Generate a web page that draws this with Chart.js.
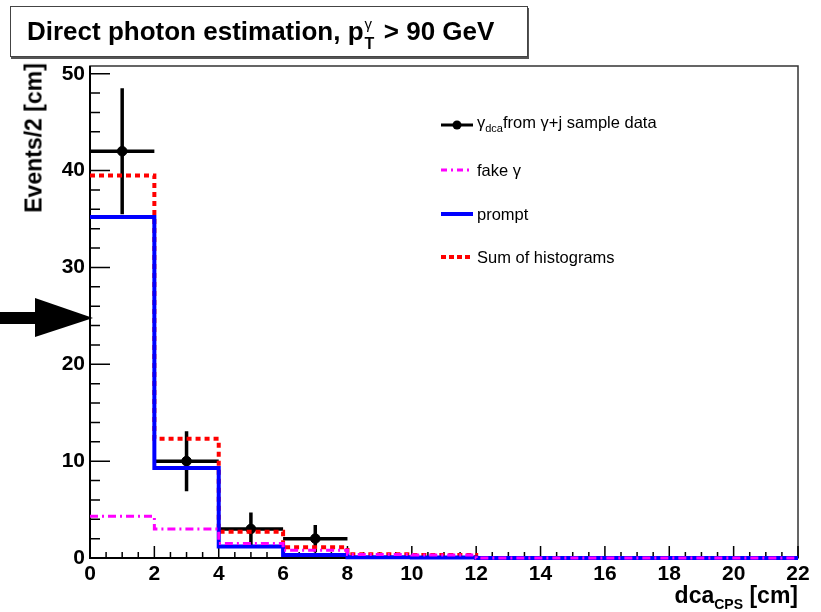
<!DOCTYPE html>
<html>
<head>
<meta charset="utf-8">
<script src="https://cdn.jsdelivr.net/npm/chart.js@4/dist/chart.umd.min.js"></script>
<style>
  body { margin: 0; background: #fff; }
  #wrap { position: relative; width: 821px; height: 612px; font-family: "Liberation Sans", Arial, sans-serif; }
  #c { position: absolute; left: 0; top: 0; }
  .lbl { position: absolute; white-space: nowrap; color: #000; }
  #title {
    left: 10px; top: 6px; width: 516px; height: 49px;
    border: 1px solid #444; box-shadow: 1px 2px 0 #555;
    font-weight: bold; font-size: 26px; line-height: 49px; box-sizing: content-box;
  }
  #title .t { position: absolute; left: 16px; top: 0; }
  .stack { display: inline-block; position: relative; width: 13px; height: 10px; }
  .stack .up { position: absolute; left: 1px; top: -31px; font-size: 15px; font-weight: normal; }
  .stack .dn { position: absolute; left: 1px; top: -11px; font-size: 16px; }
  #ytitle { left: 34px; top: 138px; font-weight: bold; font-size: 23px; transform: translate(-50%, -50%) rotate(-90deg); }
  #xtitle { right: 23px; top: 584px; font-weight: bold; font-size: 23px; line-height: 23px; }
  #xtitle sub { font-size: 14px; vertical-align: -6px; }
  .leg { left: 477px; font-size: 16.5px; line-height: 18px; transform: translateY(-50%); }
  .leg sub { font-size: 11px; vertical-align: -4px; }
</style>
</head>
<body>
<div id="wrap">
  <canvas id="c" width="821" height="612"></canvas>
  <div id="title" class="lbl"><span class="t">Direct photon estimation, p<span class="stack"><span class="up">γ</span><span class="dn">T</span></span> &gt; 90 GeV</span></div>
  <div id="ytitle" class="lbl">Events/2 [cm]</div>
  <div id="xtitle" class="lbl">dca<sub>CPS</sub> [cm]</div>
  <div class="lbl leg" style="top:125px">γ<sub>dca</sub>from γ+j sample data</div>
  <div class="lbl leg" style="top:170px">fake γ</div>
  <div class="lbl leg" style="top:214px">prompt</div>
  <div class="lbl leg" style="top:257px">Sum of histograms</div>
</div>
<script>
// histogram binning (2 cm bins)
const binEdges = [0, 2, 4, 6, 8, 10, 12, 14, 16, 18, 20, 22];

// data points from gamma+jet sample
const dataCenters = [1, 3, 5, 7];
const dataValues  = [42, 10, 3, 2];
const dataErrors  = [6.5, 3.1, 1.7, 1.4];
const dataHalfWidth = 1;

// template histograms, one value per bin
const fakeValues   = [4.3, 3.0, 1.5, 0.8, 0.35, 0.3, 0, 0, 0, 0, 0];
const promptValues = [35.2, 9.3, 1.2, 0.3, 0.08, 0.05, 0, 0, 0, 0, 0];
const sumValues    = [39.5, 12.3, 2.7, 1.1, 0.4, 0.3, 0, 0, 0, 0, 0];

const xTicks = [0, 2, 4, 6, 8, 10, 12, 14, 16, 18, 20, 22];
const yTicks = [0, 10, 20, 30, 40, 50];
const X_MAX = 22;
const Y_MAX = 50.8;

const FONT = '"Liberation Sans", Arial, sans-serif';
const MAGENTA = '#ff00ff';
const BLUE    = '#0000ff';
const RED     = '#ff0000';

// step points at bin edges, last edge repeats last bin
function histPoints(values) {
  return binEdges.map((x, i) => ({ x, y: values[Math.min(i, values.length - 1)] }));
}

// error bar segments, separated by gaps
function errorSegments() {
  const pts = [];
  dataCenters.forEach((c, i) => {
    const v = dataValues[i], e = dataErrors[i];
    pts.push({ x: c - dataHalfWidth, y: v }, { x: c + dataHalfWidth, y: v }, { x: c, y: null });
    pts.push({ x: c, y: v - e }, { x: c, y: v + e }, { x: c, y: null });
  });
  return pts;
}

const rootFrame = {
  id: 'rootFrame',
  beforeDatasetsDraw(chart) {
    const { ctx, chartArea: a, scales } = chart;
    const xs = scales.x, ys = scales.y;
    ctx.save();
    // frame
    ctx.strokeStyle = '#333';
    ctx.lineWidth = 1.5;
    ctx.strokeRect(a.left, a.top, a.right - a.left, a.bottom - a.top);
    ctx.strokeStyle = '#000';
    ctx.lineWidth = 2;
    ctx.beginPath();
    ctx.moveTo(a.left, a.top); ctx.lineTo(a.left, a.bottom); ctx.lineTo(a.right, a.bottom);
    ctx.stroke();
    // inner ticks
    ctx.lineWidth = 1.5;
    ctx.beginPath();
    for (let v = 0; v <= X_MAX + 1e-9; v += 0.5) {
      const px = xs.getPixelForValue(v);
      const len = Math.abs(v % 2) < 1e-9 ? 12 : 6;
      ctx.moveTo(px, a.bottom); ctx.lineTo(px, a.bottom - len);
    }
    for (let v = 0; v <= Y_MAX; v += 2) {
      const py = ys.getPixelForValue(v);
      const len = v % 10 === 0 ? 20 : 10;
      ctx.moveTo(a.left, py); ctx.lineTo(a.left + len, py);
    }
    ctx.stroke();
    ctx.restore();
  },
  afterDraw(chart) {
    const { ctx } = chart;
    ctx.save();
    // arrow pointing at the y axis
    ctx.fillStyle = '#000';
    ctx.fillRect(0, 312, 36, 12);
    ctx.beginPath();
    ctx.moveTo(35, 298); ctx.lineTo(93, 318); ctx.lineTo(35, 337); ctx.closePath();
    ctx.fill();
    // legend samples
    const x0 = 441, x1 = 473;
    const sample = (y, color, width, dash) => {
      ctx.strokeStyle = color; ctx.lineWidth = width; ctx.setLineDash(dash);
      ctx.beginPath(); ctx.moveTo(x0, y); ctx.lineTo(x1, y); ctx.stroke();
    };
    sample(125, '#000', 3, []);
    ctx.beginPath(); ctx.arc(457, 125, 4.5, 0, Math.PI * 2); ctx.fill();
    sample(170, MAGENTA, 3, [6, 4, 2, 4]);
    sample(214, BLUE, 4, []);
    sample(257, RED, 4, [5, 3]);
    ctx.restore();
  }
};

new Chart(document.getElementById('c'), {
  type: 'line',
  data: {
    datasets: [
      { label: 'fake', data: histPoints(fakeValues), stepped: true, borderColor: MAGENTA,
        borderWidth: 3, borderDash: [8, 4, 2, 4], pointRadius: 0, fill: false, clip: 6 },
      { label: 'prompt', data: histPoints(promptValues), stepped: true, borderColor: BLUE,
        borderWidth: 4, pointRadius: 0, fill: false, clip: 6 },
      { label: 'sum', data: histPoints(sumValues), stepped: true, borderColor: RED,
        borderWidth: 4, borderDash: [5, 4], pointRadius: 0, fill: false, clip: 6 },
      { label: 'errors', data: errorSegments(), borderColor: '#000', borderWidth: 3.5,
        pointRadius: 0, spanGaps: false, fill: false, clip: 6 },
      { type: 'scatter', label: 'data', data: dataCenters.map((x, i) => ({ x, y: dataValues[i] })),
        pointRadius: 4.8, pointBackgroundColor: '#000', pointBorderColor: '#000', clip: 6 }
    ]
  },
  options: {
    responsive: false,
    animation: false,
    devicePixelRatio: 1,
    layout: { padding: { left: 40, right: 23, top: 66, bottom: 24 } },
    plugins: { legend: { display: false }, tooltip: { enabled: false } },
    scales: {
      x: {
        type: 'linear', min: 0, max: X_MAX,
        grid: { display: false, drawTicks: false },
        border: { display: false },
        afterBuildTicks: s => { s.ticks = xTicks.map(v => ({ value: v })); },
        afterFit: s => { s.height = 30; },
        ticks: { color: '#000', padding: 4, maxRotation: 0, font: { family: FONT, size: 21, weight: 'bold' } }
      },
      y: {
        type: 'linear', min: 0, max: Y_MAX,
        grid: { display: false, drawTicks: false },
        border: { display: false },
        afterBuildTicks: s => { s.ticks = yTicks.map(v => ({ value: v })); },
        afterFit: s => { s.width = 50; },
        ticks: { color: '#000', padding: 5, font: { family: FONT, size: 21, weight: 'bold' } }
      }
    }
  },
  plugins: [rootFrame]
});
</script>
</body>
</html>
